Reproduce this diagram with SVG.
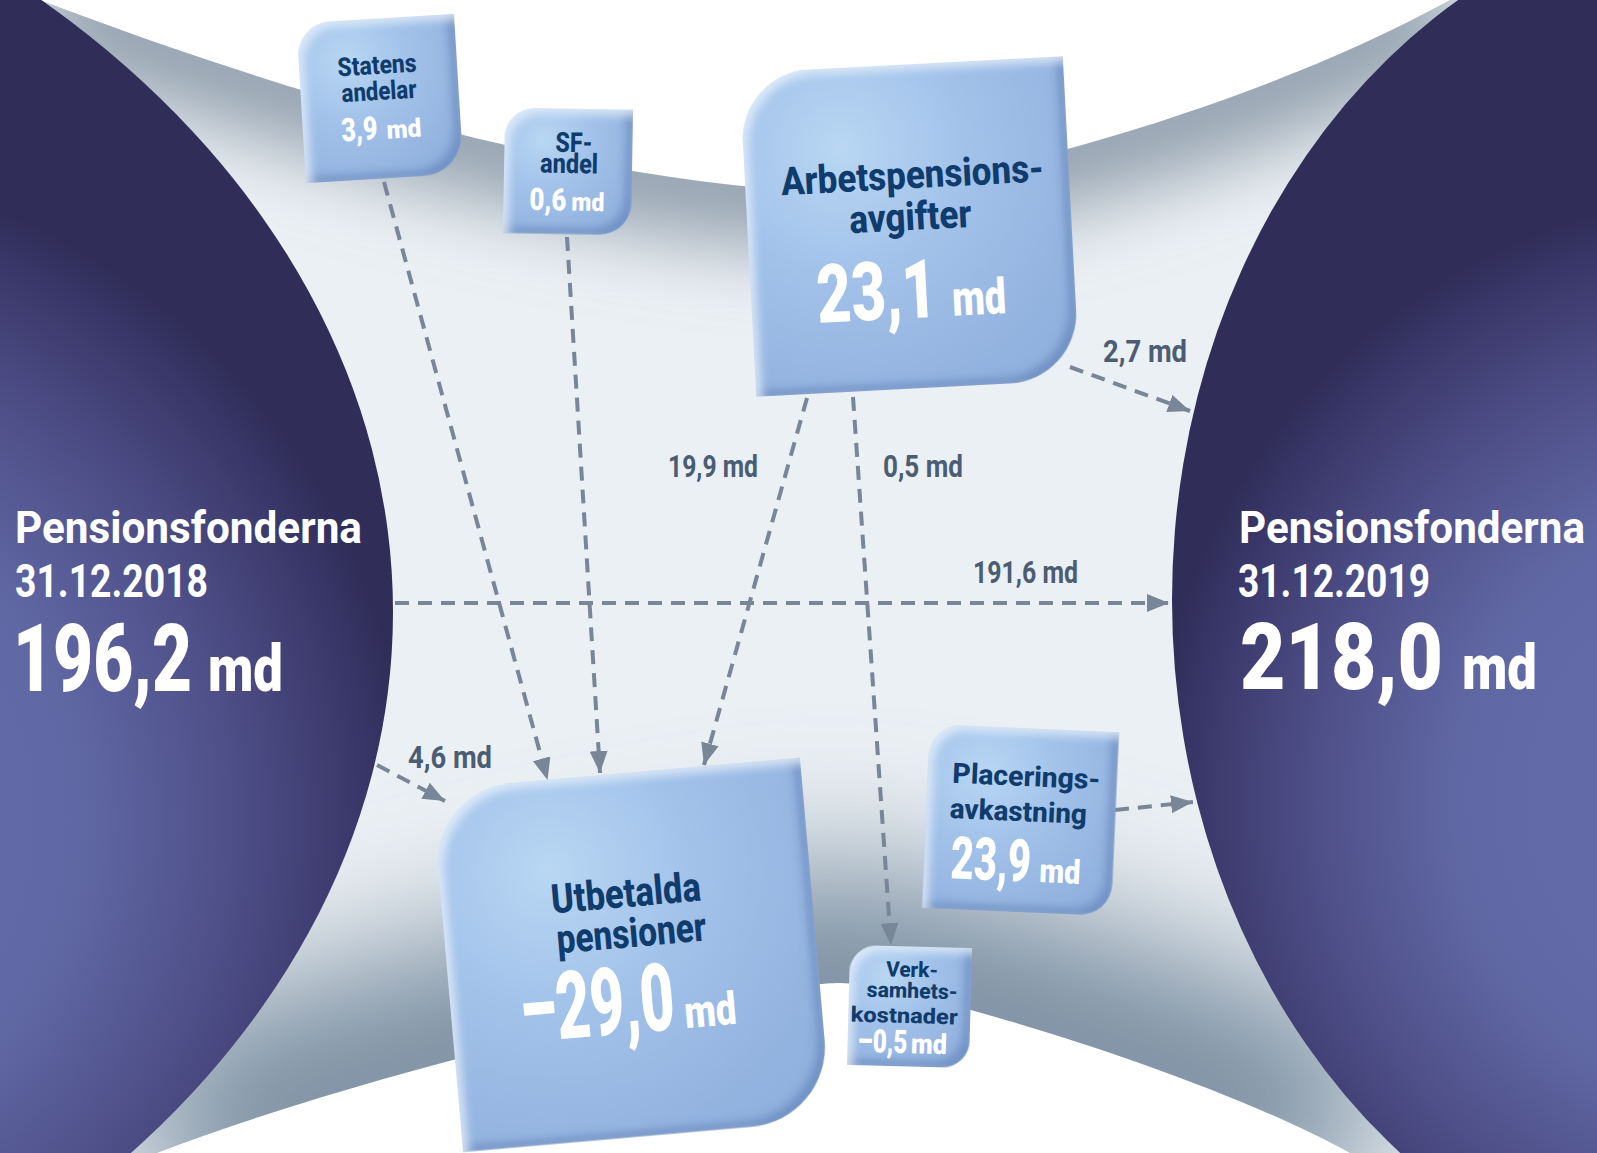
<svg xmlns="http://www.w3.org/2000/svg" width="1597" height="1153" viewBox="0 0 1597 1153">
<defs>
  <style>
    .t{font-family:"Roboto","Liberation Sans","DejaVu Sans",sans-serif;font-weight:700}
    .nav{fill:#0f3c6c;font-weight:800}
    .wht{fill:#ffffff;font-weight:900}
    .elab{fill:#4b5d72;font-size:27px}
    .ttl{fill:#ffffff}
    .big{font-weight:900}
    .box{fill:url(#boxGrad);filter:url(#bevel)}
    .con{fill:none;stroke:#788697;stroke-width:4;stroke-dasharray:14 9;marker-end:url(#arr)}
  </style>
  <radialGradient id="leftGrad" gradientUnits="userSpaceOnUse" cx="-250" cy="820" r="660">
    <stop offset="0" stop-color="#6670ad"/>
    <stop offset="0.5" stop-color="#6068a4"/>
    <stop offset="0.75" stop-color="#4d4d86"/>
    <stop offset="0.92" stop-color="#3a386a"/>
    <stop offset="1" stop-color="#302d58"/>
  </radialGradient>
  <radialGradient id="rightGrad" gradientUnits="userSpaceOnUse" cx="1760" cy="800" r="610">
    <stop offset="0" stop-color="#6670ad"/>
    <stop offset="0.5" stop-color="#6068a4"/>
    <stop offset="0.75" stop-color="#4d4d86"/>
    <stop offset="0.92" stop-color="#3a386a"/>
    <stop offset="1" stop-color="#302d58"/>
  </radialGradient>
  <radialGradient id="boxGrad" cx="0.3" cy="0.25" r="0.85" fx="0.3" fy="0.25">
    <stop offset="0" stop-color="#b8d7f3"/>
    <stop offset="0.45" stop-color="#a2c2ea"/>
    <stop offset="1" stop-color="#91b1de"/>
  </radialGradient>
  <filter id="bevel" x="-5%" y="-5%" width="110%" height="110%">
    <feGaussianBlur in="SourceAlpha" stdDeviation="5" result="b"/>
    <feOffset in="b" dx="-7" dy="-6" result="o1"/>
    <feComposite in="SourceAlpha" in2="o1" operator="out" result="e1"/>
    <feFlood flood-color="#4f74b0" flood-opacity="0.6"/>
    <feComposite in2="e1" operator="in" result="s1"/>
    <feOffset in="b" dx="5" dy="5" result="o2"/>
    <feComposite in="SourceAlpha" in2="o2" operator="out" result="e2"/>
    <feFlood flood-color="#e8f3fd" flood-opacity="0.75"/>
    <feComposite in2="e2" operator="in" result="s2"/>
    <feMerge><feMergeNode in="SourceGraphic"/><feMergeNode in="s1"/><feMergeNode in="s2"/></feMerge>
  </filter>
  <filter id="blurTop" filterUnits="userSpaceOnUse" x="-200" y="-300" width="2000" height="1800">
    <feGaussianBlur stdDeviation="40"/>
  </filter>
  <filter id="blurBot" filterUnits="userSpaceOnUse" x="-200" y="-300" width="2000" height="1800">
    <feGaussianBlur stdDeviation="70"/>
  </filter>
  <clipPath id="gclip">
    <path d="M0,0 L40,0 C250,80 560,180 820,192 C950,192 1250,110 1450,0 L1597,0 L1597,1153 L1350,1153 C1200,1070 900,983 840,983 C760,983 400,1060 157,1153 L0,1153 Z"/>
  </clipPath>
  <marker id="arr" viewBox="0 0 22 18" refX="22" refY="9" markerWidth="22" markerHeight="18" markerUnits="userSpaceOnUse" orient="auto">
    <path d="M0,0 L22,9 L0,18 Z" fill="#788697"/>
  </marker>
</defs>

<rect width="1597" height="1153" fill="#ffffff"/>

<g id="background">
  <g clip-path="url(#gclip)">
    <rect width="1597" height="1153" fill="#ebf0f4"/>
    <path d="M40,0 C250,80 560,180 820,192 C950,192 1250,110 1450,0" fill="none" stroke="#8f9dab" stroke-width="110" filter="url(#blurTop)"/>
    <path d="M1350,1153 C1200,1070 900,983 840,983 C760,983 400,1060 157,1153" fill="none" stroke="#7a8ea0" stroke-width="230" filter="url(#blurBot)"/>
  </g>
</g>

<g id="fund-2018">
  <ellipse cx="-707" cy="612" rx="1100" ry="835" fill="url(#leftGrad)"/>
  <text class="t ttl" transform="translate(15,543) scale(1,1.05)" font-size="42.5" font-weight="500" textLength="347" lengthAdjust="spacingAndGlyphs">Pensionsfonderna</text>
  <text class="t ttl" transform="translate(15,597) scale(1,1.2)" font-size="38.7" font-weight="400" textLength="193" lengthAdjust="spacingAndGlyphs">31.12.2018</text>
  <text class="t ttl big" transform="translate(13,691) scale(1,1.3)" font-size="72.5" textLength="179" lengthAdjust="spacingAndGlyphs">196,2</text>
  <text class="t ttl big" transform="translate(208,691) scale(1,1.25)" font-size="52" textLength="75" lengthAdjust="spacingAndGlyphs">md</text>
</g>

<g id="fund-2019">
  <ellipse cx="1762" cy="600" rx="590" ry="700" fill="url(#rightGrad)"/>
  <text class="t ttl" transform="translate(1239,543) scale(1,1.05)" font-size="42.5" font-weight="500" textLength="346" lengthAdjust="spacingAndGlyphs">Pensionsfonderna</text>
  <text class="t ttl" transform="translate(1238,597) scale(1,1.2)" font-size="38.7" font-weight="400" textLength="192" lengthAdjust="spacingAndGlyphs">31.12.2019</text>
  <text class="t ttl big" transform="translate(1240,689) scale(1,1.3)" font-size="71.5" textLength="203" lengthAdjust="spacingAndGlyphs">218,0</text>
  <text class="t ttl big" transform="translate(1462,689) scale(1,1.25)" font-size="51" textLength="75" lengthAdjust="spacingAndGlyphs">md</text>
</g>

<g id="connectors">
  <path class="con" d="M384,182 L547.5,780"/>
  <path class="con" d="M567,237 L600,773"/>
  <path class="con" d="M807,398 L704,765"/>
  <path class="con" d="M853,397 L891,945"/>
  <path class="con" d="M395,603 L1169,603"/>
  <path class="con" d="M377,765 L445,801"/>
  <path class="con" d="M1070,367 L1190,411"/>
  <path class="con" d="M1115,810 L1193,802"/>
  <text class="t elab" transform="translate(1103,362) scale(1,1.15)" textLength="84" lengthAdjust="spacingAndGlyphs">2,7 md</text>
  <text class="t elab" transform="translate(668,477) scale(1,1.15)" textLength="90" lengthAdjust="spacingAndGlyphs">19,9 md</text>
  <text class="t elab" transform="translate(883,477) scale(1,1.15)" textLength="80" lengthAdjust="spacingAndGlyphs">0,5 md</text>
  <text class="t elab" transform="translate(973,583) scale(1,1.15)" textLength="105" lengthAdjust="spacingAndGlyphs">191,6 md</text>
  <text class="t elab" transform="translate(408,768) scale(1,1.15)" textLength="84" lengthAdjust="spacingAndGlyphs">4,6 md</text>
</g>

<g id="node-statens" transform="translate(380,98.5) rotate(-3.5)">
  <path class="box" d="M-79,-46 A34,34 0 0 1 -45,-80 L79,-80 L79,40 A40,40 0 0 1 39,80 L-79,80 Z"/>
  <text class="t nav" transform="translate(-1,-24.6) scale(1,1.15)" text-anchor="middle" font-size="22.6" textLength="79" lengthAdjust="spacingAndGlyphs">Statens</text>
  <text class="t nav" transform="translate(-0.6,1.5) scale(1,1.15)" text-anchor="middle" font-size="22.6" textLength="75" lengthAdjust="spacingAndGlyphs">andelar</text>
  <text class="t wht" transform="translate(-40.5,40.5) scale(1,1.3)" font-size="24.9" textLength="36" lengthAdjust="spacingAndGlyphs">3,9</text>
  <text class="t wht" transform="translate(4.5,40.5) scale(1,1.3)" font-size="19.5" textLength="35" lengthAdjust="spacingAndGlyphs">md</text>
</g>

<g id="node-sf" transform="translate(568,171.5) rotate(1)">
  <path class="box" d="M-64,-32.5 A30,30 0 0 1 -34,-62.5 L64,-62.5 L64,30.5 A32,32 0 0 1 32,62.5 L-64,62.5 Z"/>
  <text class="t nav" transform="translate(5.5,-19.5) scale(1,1.15)" text-anchor="middle" font-size="24" textLength="37" lengthAdjust="spacingAndGlyphs">SF-</text>
  <text class="t nav" transform="translate(1,1.5) scale(1,1.15)" text-anchor="middle" font-size="24" textLength="58" lengthAdjust="spacingAndGlyphs">andel</text>
  <text class="t wht" transform="translate(-38,39) scale(1,1.3)" font-size="23.8" textLength="37" lengthAdjust="spacingAndGlyphs">0,6</text>
  <text class="t wht" transform="translate(4,39) scale(1,1.3)" font-size="19.5" textLength="33" lengthAdjust="spacingAndGlyphs">md</text>
</g>

<g id="node-arbetspension" transform="translate(909.5,226.5) rotate(-3)">
  <path class="box" d="M-162,-92 A70,70 0 0 1 -92,-162 L162,-162 L162,92 A70,70 0 0 1 92,162 L-162,162 Z"/>
  <text class="t nav" transform="translate(5.5,-38) scale(1,1.15)" text-anchor="middle" font-size="34" textLength="263" lengthAdjust="spacingAndGlyphs">Arbetspensions-</text>
  <text class="t nav" transform="translate(1.3,3.6) scale(1,1.15)" text-anchor="middle" font-size="34" textLength="122" lengthAdjust="spacingAndGlyphs">avgifter</text>
  <text class="t wht" transform="translate(-96.3,91.5) scale(1,1.3)" font-size="62.8" textLength="120" lengthAdjust="spacingAndGlyphs">23,1</text>
  <text class="t wht" transform="translate(38.7,91.5) scale(1,1.3)" font-size="38" textLength="54" lengthAdjust="spacingAndGlyphs">md</text>
</g>

<g id="node-utbetalda" transform="translate(631.5,955) rotate(-5)">
  <path class="box" d="M-185,-101.5 A80,80 0 0 1 -105,-181.5 L185,-181.5 L185,101.5 A80,80 0 0 1 105,181.5 L-185,181.5 Z"/>
  <text class="t nav" transform="translate(-0.3,-48.2) scale(1,1.15)" text-anchor="middle" font-size="35.5" textLength="150" lengthAdjust="spacingAndGlyphs">Utbetalda</text>
  <text class="t nav" transform="translate(1.7,-7.9) scale(1,1.15)" text-anchor="middle" font-size="35.5" textLength="150" lengthAdjust="spacingAndGlyphs">pensioner</text>
  <text class="t wht" transform="translate(-116.3,77.6) scale(1,1.3)" font-size="72.5" textLength="155" lengthAdjust="spacingAndGlyphs">–29,0</text>
  <text class="t wht" transform="translate(47.7,77.6) scale(1,1.3)" font-size="35" textLength="52" lengthAdjust="spacingAndGlyphs">md</text>
</g>

<g id="node-placering" transform="translate(1020.5,820) rotate(2.5)">
  <path class="box" d="M-94.5,-60 A32,32 0 0 1 -62.5,-92 L94.5,-92 L94.5,60 A32,32 0 0 1 62.5,92 L-94.5,92 Z"/>
  <text class="t nav" transform="translate(4,-34.2) scale(1,1.15)" text-anchor="middle" font-size="24.5" textLength="148" lengthAdjust="spacingAndGlyphs">Placerings-</text>
  <text class="t nav" transform="translate(-2.5,1.1) scale(1,1.15)" text-anchor="middle" font-size="24.5" textLength="137" lengthAdjust="spacingAndGlyphs">avkastning</text>
  <text class="t wht" transform="translate(-67.8,61.2) scale(1,1.3)" font-size="45.5" textLength="80" lengthAdjust="spacingAndGlyphs">23,9</text>
  <text class="t wht" transform="translate(21.2,61.2) scale(1,1.3)" font-size="25.6" textLength="41" lengthAdjust="spacingAndGlyphs">md</text>
</g>

<g id="node-verksamhet" transform="translate(909.5,1006.5) rotate(1.5)">
  <path class="box" d="M-61,-33 A27,27 0 0 1 -34,-60 L61,-60 L61,33 A27,27 0 0 1 34,60 L-61,60 Z"/>
  <text class="t nav" transform="translate(1.7,-29.6) scale(1,1.15)" text-anchor="middle" font-size="18.5" textLength="52" lengthAdjust="spacingAndGlyphs">Verk-</text>
  <text class="t nav" transform="translate(2.3,-8.6) scale(1,1.15)" text-anchor="middle" font-size="18.5" textLength="91" lengthAdjust="spacingAndGlyphs">samhets-</text>
  <text class="t nav" transform="translate(-5.1,16.6) scale(1,1.15)" text-anchor="middle" font-size="18.5" textLength="107" lengthAdjust="spacingAndGlyphs">kostnader</text>
  <text class="t wht" transform="translate(-51,46.7) scale(1,1.3)" font-size="24.9" textLength="50" lengthAdjust="spacingAndGlyphs">–0,5</text>
  <text class="t wht" transform="translate(2.5,46.7) scale(1,1.3)" font-size="21.5" textLength="36" lengthAdjust="spacingAndGlyphs">md</text>
</g>
</svg>
